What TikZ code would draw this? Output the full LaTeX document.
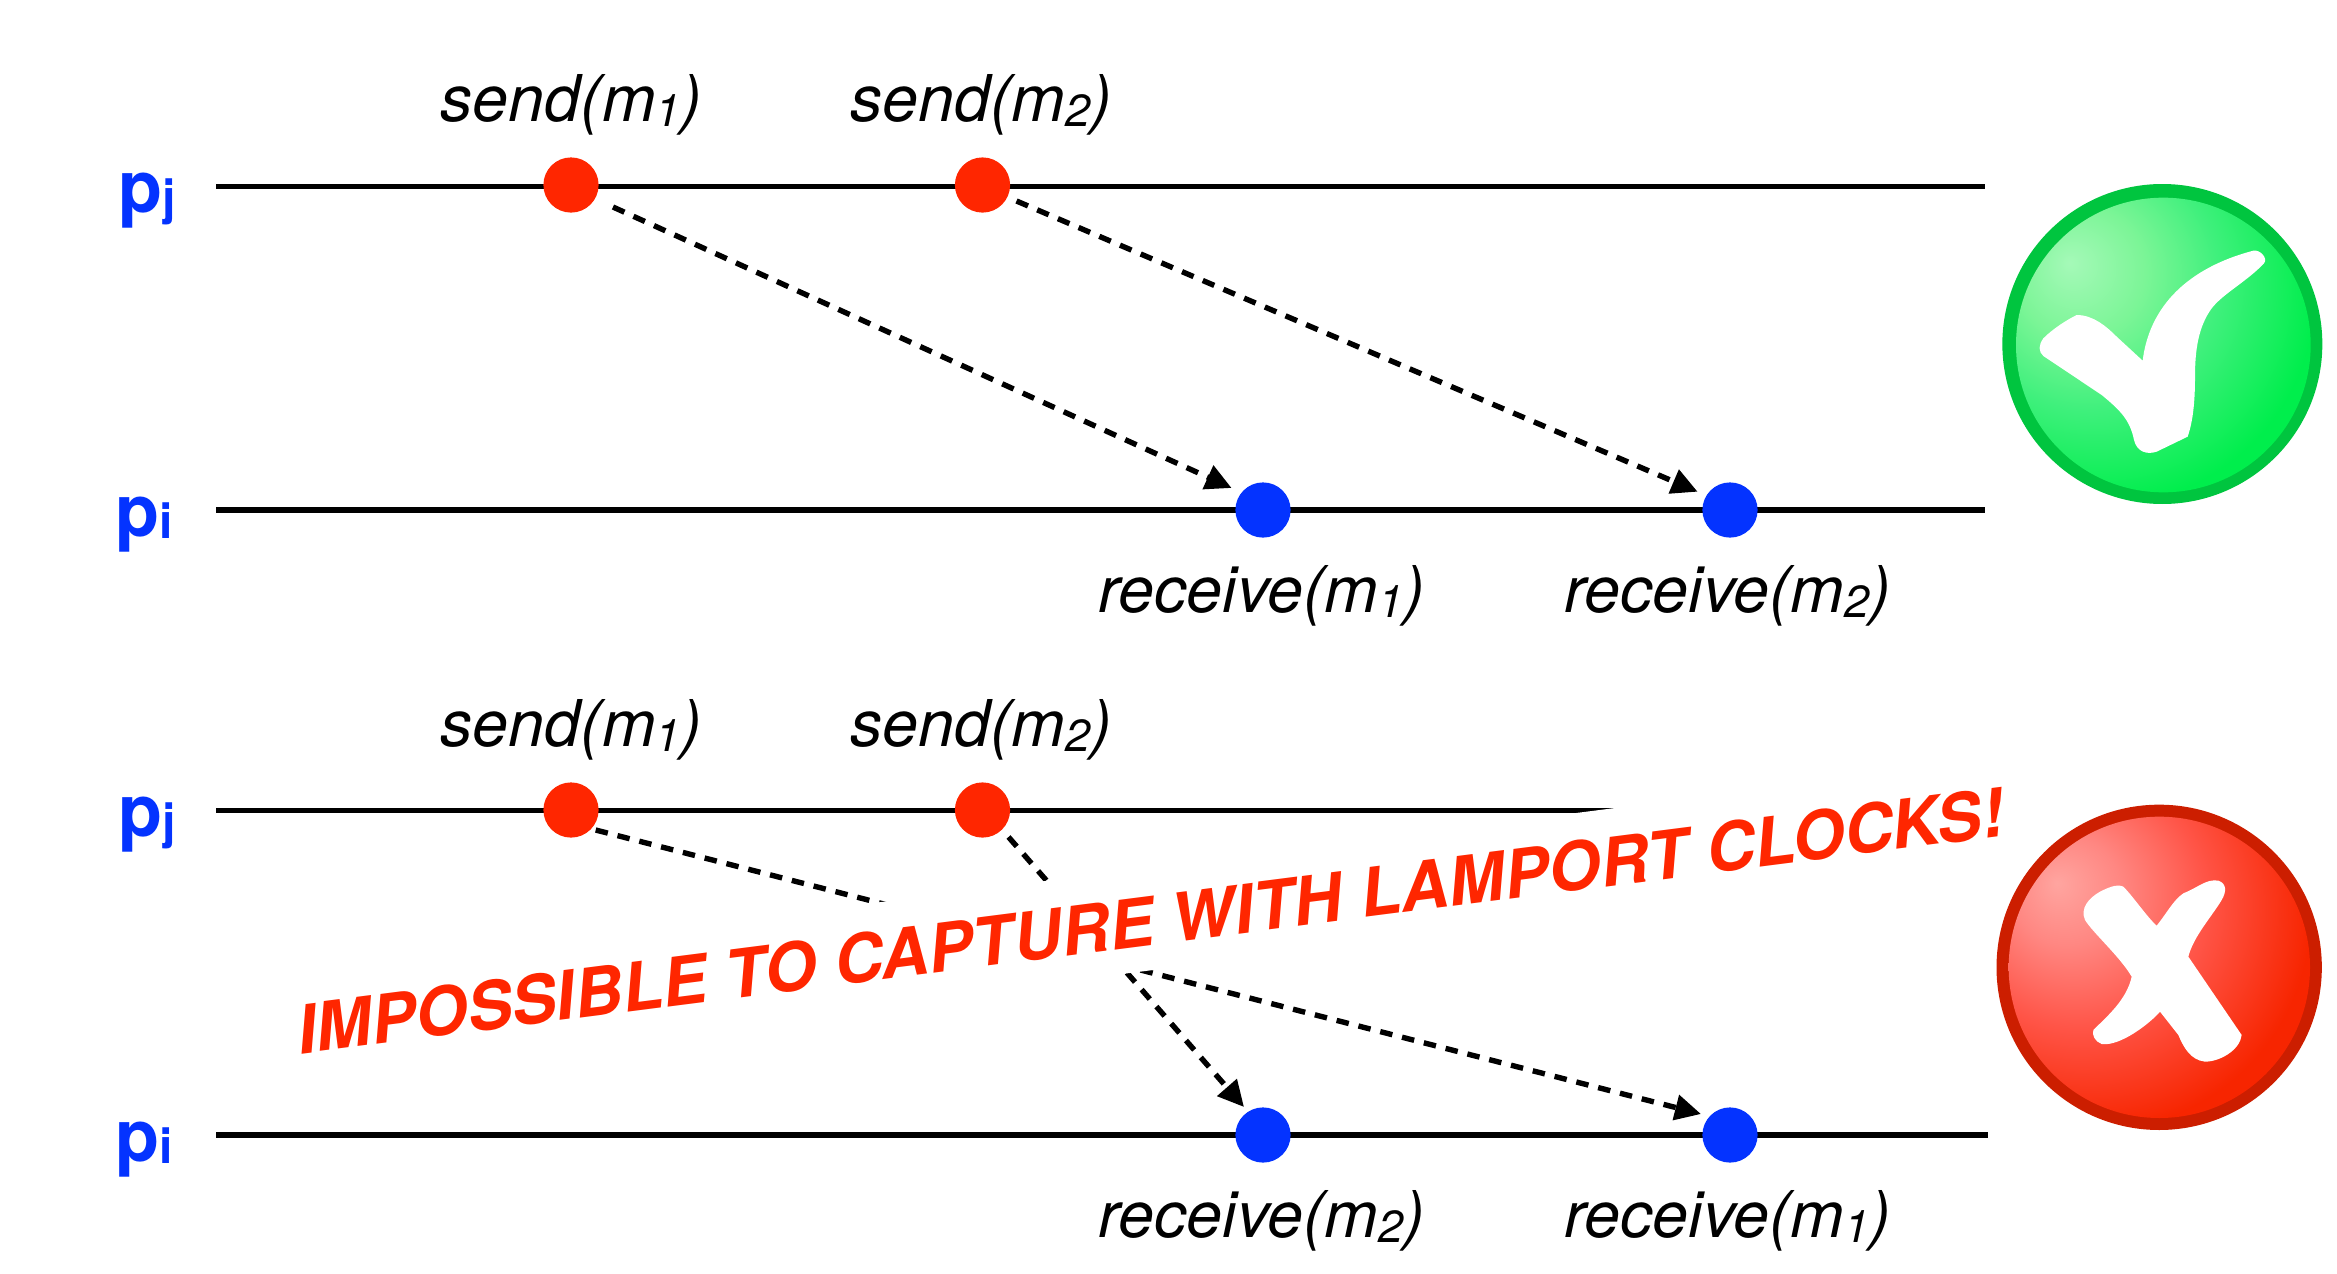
\documentclass[tikz,border=0pt]{standalone}
\usepackage{fontspec}
\setmainfont{TeX Gyre Heros}
\usetikzlibrary{arrows.meta}
\definecolor{cred}{HTML}{FF2600}
\definecolor{cblue}{HTML}{0433FF}
\definecolor{ringgreen}{HTML}{00C53F}
\definecolor{ringred}{HTML}{CC1E00}
\pgfdeclareradialshading{greenball}{\pgfpoint{-16bp}{14bp}}{%
  color(0bp)=(rgb,255:red,165;green,249;blue,184);
  color(11bp)=(rgb,255:red,124;green,245;blue,151);
  color(22bp)=(rgb,255:red,63;green,240;blue,124);
  color(36bp)=(rgb,255:red,0;green,238;blue,76);
  color(100bp)=(rgb,255:red,0;green,238;blue,76)}
\pgfdeclareradialshading{redball}{\pgfpoint{-17bp}{14bp}}{%
  color(0bp)=(rgb,255:red,255;green,165;blue,160);
  color(9bp)=(rgb,255:red,255;green,135;blue,130);
  color(21bp)=(rgb,255:red,255;green,85;blue,72);
  color(36bp)=(rgb,255:red,247;green,37;blue,0);
  color(100bp)=(rgb,255:red,247;green,37;blue,0)}
\newcommand{\evlabel}[2]{\fontsize{64.5}{64.5}\selectfont\itshape #1(m\raisebox{-5pt}{\fontsize{45}{45}\selectfont #2})}
\newcommand{\procname}[1]{\fontsize{72}{72}\selectfont\bfseries p\raisebox{-2pt}{\fontsize{48}{48}\selectfont #1}}
\tikzset{
  timeline/.style={line width=5.6pt,black},
  senddot/.style={circle,fill=cred,inner sep=0pt,minimum size=55.2pt},
  recvdot/.style={circle,fill=cblue,inner sep=0pt,minimum size=55.2pt},
  msgline/.style={line width=5.4pt,black,dash pattern=on 12.5pt off 10pt,-{Triangle[length=26pt,width=25pt]}},
  evtext/.style={anchor=base,inner sep=0pt,text=black},
  proclabel/.style={anchor=base west,inner sep=0pt,text=cblue},
  banner/.style={fill=white,text=cred,inner sep=0pt,text height=77pt,text depth=25pt,rotate=7.3,
    font=\fontsize{67}{67}\selectfont\bfseries\itshape}
}
\begin{document}
\begin{tikzpicture}[x=1pt,y=-1pt]
\useasboundingbox (0,0) rectangle (2337,1274);
% line ends
\coordinate (l1a) at (216,186.5);  \coordinate (l1b) at (1985,186.5);
\coordinate (l2a) at (216,510);  \coordinate (l2b) at (1985,510);
\coordinate (l3a) at (216,810.5);\coordinate (l3b) at (1985,810.5);
\coordinate (l4a) at (216,1135); \coordinate (l4b) at (1988,1135);
\draw[timeline] (l1a) -- (l1b);
\draw[timeline] (l2a) -- (l2b);
\draw[timeline] (l3a) -- (l3b);
\draw[timeline] (l4a) -- (l4b);
% process labels
\node[proclabel] (pj1) at (118,212) {\procname{j}};
\node[proclabel] (pi1) at (115,536) {\procname{i}};
\node[proclabel] (pj2) at (118,836) {\procname{j}};
\node[proclabel] (pi2) at (115,1161) {\procname{i}};
% events
\node[senddot] (sa1) at (571,185) {};
\node[senddot] (sa2) at (982.5,185) {};
\node[recvdot] (ra1) at (1263,510) {};
\node[recvdot] (ra2) at (1730,510) {};
\node[senddot] (sb1) at (571,810) {};
\node[senddot] (sb2) at (982.5,810) {};
\node[recvdot] (rb1) at (1263,1135) {};
\node[recvdot] (rb2) at (1730,1135) {};
% event labels
\node[evtext] (tsa1) at (571.5,121) {\evlabel{send}{1}};
\node[evtext] (tsa2) at (981,121) {\evlabel{send}{2}};
\node[evtext] (tra1) at (1261.5,612) {\evlabel{receive}{1}};
\node[evtext] (tra2) at (1727.5,612) {\evlabel{receive}{2}};
\node[evtext] (tsb1) at (571.5,746) {\evlabel{send}{1}};
\node[evtext] (tsb2) at (981,746) {\evlabel{send}{2}};
\node[evtext] (trb1) at (1261.5,1237) {\evlabel{receive}{2}};
\node[evtext] (trb2) at (1727.5,1237) {\evlabel{receive}{1}};
% messages
\draw[msgline] ([shift={(42,22)}]sa1.center) -- ([shift={(-31.4,-22)}]ra1.center);
\draw[msgline] ([shift={(34,16)}]sa2.center) -- ([shift={(-32.4,-18.3)}]ra2.center);
\draw[msgline] ([shift={(24.7,20)}]sb1.center) -- ([shift={(-29,-21)}]rb2.center);
\draw[msgline] ([shift={(26,27)}]sb2.center) -- ([shift={(-19,-28)}]rb1.center);
% banner
\node[banner] (ban) at (1150,919) {IMPOSSIBLE TO CAPTURE WITH LAMPORT CLOCKS!};
% check icon
\begin{scope}[shift={(1960,150)},x=0.33333pt,y=-0.33333pt]
\fill[ringgreen] (607,582) circle[radius=480];
\shade[shading=greenball] (610,585) circle[radius=442];
\fill[white] (548,632) .. controls (565,490) and (660,360) .. (880,302)
 .. controls (900,298) and (925,325) .. (912,340)
 .. controls (860,395) and (790,430) .. (755,475)
 .. controls (715,530) and (705,600) .. (705,680)
 .. controls (705,750) and (700,810) .. (683,860)
 -- (590,905)
 .. controls (560,915) and (530,905) .. (522,870)
 .. controls (510,810) and (480,780) .. (425,735)
 -- (250,618)
 .. controls (235,605) and (235,585) .. (250,565)
 .. controls (280,535) and (320,510) .. (350,495)
 .. controls (400,495) and (440,530) .. (470,560)
 -- cycle;
\end{scope}
% cross icon
\begin{scope}[shift={(1960,780)},x=0.33333pt,y=-0.33333pt]
\fill[ringred] (597.5,562) circle[radius=488];
\shade[shading=redball] (598,562) circle[radius=452];
\fill[white] (590,437) .. controls (620,400) and (640,360) .. (670,340)
 .. controls (710,325) and (740,295) .. (775,302)
 .. controls (800,310) and (800,335) .. (785,360)
 .. controls (755,410) and (700,470) .. (685,530)
 -- (845,765)
 .. controls (840,810) and (780,845) .. (735,845)
 .. controls (690,840) and (670,800) .. (655,765)
 -- (600,695)
 .. controls (570,730) and (480,800) .. (425,792)
 .. controls (405,785) and (395,765) .. (400,750)
 .. controls (440,710) and (500,660) .. (515,590)
 .. controls (480,530) and (400,460) .. (375,420)
 .. controls (360,385) and (385,355) .. (420,335)
 .. controls (440,325) and (470,310) .. (490,320)
 .. controls (520,350) and (560,410) .. (590,437) -- cycle;
\end{scope}
\end{tikzpicture}
\end{document}
